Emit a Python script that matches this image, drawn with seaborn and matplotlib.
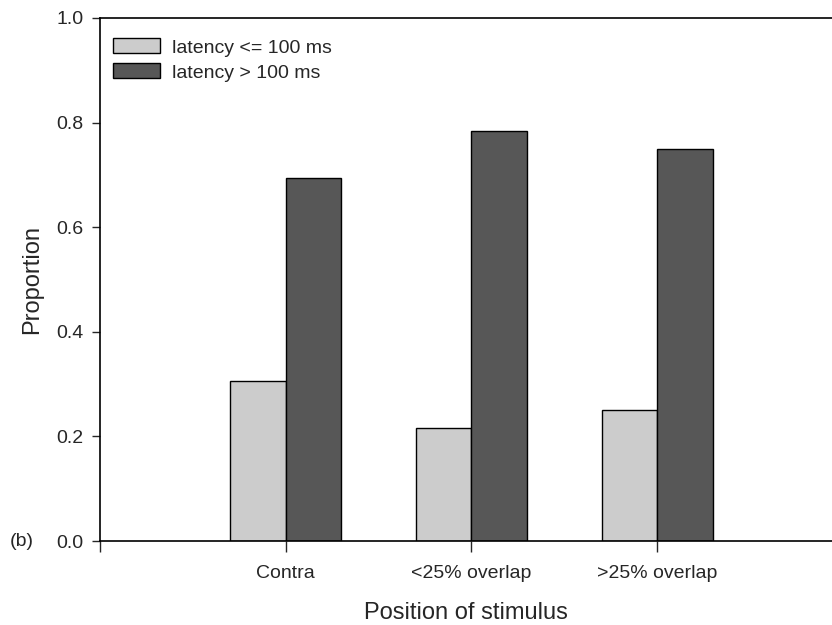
import pandas as pd
import matplotlib
matplotlib.use("Agg")
import matplotlib.pyplot as plt
import seaborn as sns

# Data
positions = ["Contra", "<25% overlap", ">25% overlap"]
latency_short = [0.306, 0.217, 0.250]
latency_long = [0.694, 0.783, 0.750]
series_names = ["latency <= 100 ms", "latency > 100 ms"]
bar_colors = ["#cccccc", "#575757"]

df = pd.DataFrame({
    "position": positions * 2,
    "proportion": latency_short + latency_long,
    "group": [series_names[0]] * 3 + [series_names[1]] * 3,
})

sns.set_style("ticks")
plt.rcParams["font.family"] = ["Liberation Sans", "DejaVu Sans"]

fig = plt.figure(figsize=(8.32, 6.25), dpi=100)
ax = fig.add_axes([0.12, 0.1344, 0.88, 0.8368])

sns.barplot(data=df, x="position", y="proportion", hue="group",
            order=positions, hue_order=series_names, palette=bar_colors,
            width=0.6, gap=0, edgecolor="black", linewidth=1.0,
            saturation=1, ax=ax)

ax.set_xlim(-1, 2.94)
ax.set_ylim(0, 1.0)
ax.set_yticks([0.0, 0.2, 0.4, 0.6, 0.8, 1.0])
ax.set_yticklabels(["0.0", "0.2", "0.4", "0.6", "0.8", "1.0"])
ax.set_xticks([-1, 0, 1, 2])
ax.set_xticklabels(["", "Contra", "<25% overlap", ">25% overlap"])

ax.tick_params(axis="y", direction="out", length=6, width=1, labelsize=14, pad=6)
ax.tick_params(axis="x", direction="out", length=8, width=1, labelsize=14, pad=9)

for side in ["left", "top", "bottom"]:
    ax.spines[side].set_visible(True)
    ax.spines[side].set_color("black")
    ax.spines[side].set_linewidth(1.2)
ax.spines["right"].set_visible(False)

ax.set_xlabel("Position of stimulus", fontsize=17, labelpad=15)
ax.set_ylabel("Proportion", fontsize=17, labelpad=9)

ax.legend(loc="upper left", frameon=False, fontsize=14,
          handlelength=2.4, handleheight=0.8, handletextpad=0.6,
          labelspacing=0.35, borderaxespad=0.3, bbox_to_anchor=(0.0, 0.987))

fig.text(0.012, 0.134, "(b)", fontsize=14, va="center", ha="left")

fig.savefig("out.png", dpi=100)
